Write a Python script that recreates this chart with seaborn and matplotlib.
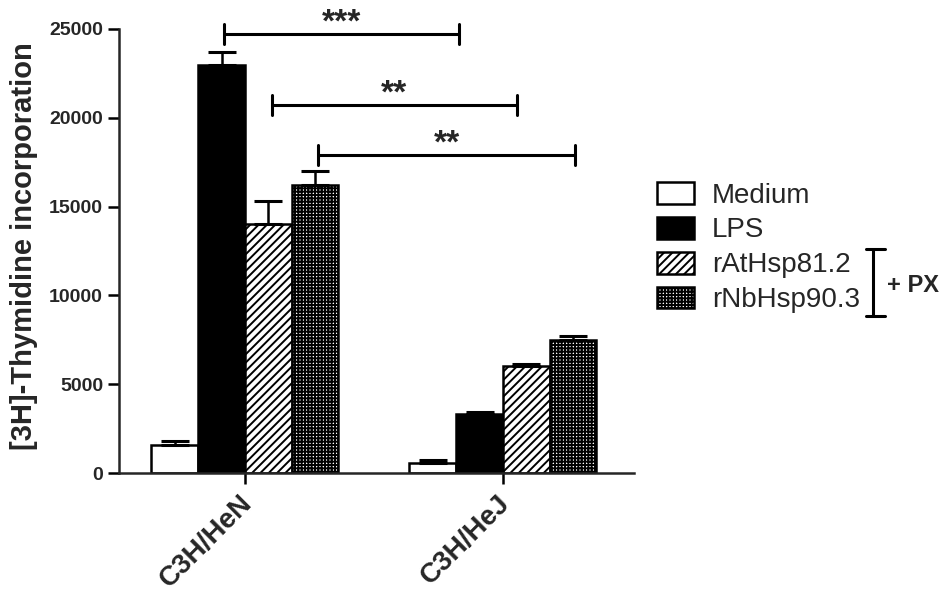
import matplotlib
matplotlib.use("Agg")
import matplotlib.pyplot as plt
import matplotlib.transforms as mtransforms
from matplotlib.lines import Line2D
import pandas as pd
import seaborn as sns

# Valores
cepas = ["C3H/HeN", "C3H/HeJ"]
tratamientos = ["Medium", "LPS", "rAtHsp81.2", "rNbHsp90.3"]
medium = [1550, 550]
lps = [23000, 3300]
rathsp = [14000, 6000]
rnbhsp = [16200, 7500]
err_medium = [250, 170]
err_lps = [700, 150]
err_rathsp = [1300, 150]
err_rnbhsp = [800, 200]

colores = ["white", "black", "white", "white"]
tramas = ["", "", "////", "+++++"]

# Barras de significancia (posicion x en unidades de categoria)
sig_izq = [-0.08, 0.105, 0.283]
sig_der = [0.83, 1.054, 1.28]
sig_y = [24700, 20700, 17900]
sig_txt = ["***", "**", "**"]


def armar_tabla():
    filas = []
    valores = [medium, lps, rathsp, rnbhsp]
    for t, vals in zip(tratamientos, valores):
        for c, v in zip(cepas, vals):
            filas.append({"cepa": c, "tratamiento": t, "valor": v})
    return pd.DataFrame(filas)


def main():
    sns.set_style("ticks")
    plt.rcParams["font.family"] = ["Liberation Sans", "DejaVu Sans"]
    plt.rcParams["hatch.linewidth"] = 1.4

    df = armar_tabla()

    fig = plt.figure(figsize=(9.42, 5.94), dpi=100)
    ax = fig.add_axes([0.1263, 0.2037, 0.5467, 0.7475])

    sns.barplot(data=df, x="cepa", y="valor", hue="tratamiento",
                order=cepas, hue_order=tratamientos, palette=colores,
                edgecolor="black", linewidth=1.8, width=0.725,
                errorbar=None, legend=False, ax=ax)

    barras = list(ax.containers)
    errores = [err_medium, err_lps, err_rathsp, err_rnbhsp]
    for cont, trama, err in zip(barras, tramas, errores):
        xs, ys = [], []
        for p in cont.patches:
            p.set_hatch(trama)
            xs.append(p.get_x() + p.get_width() / 2)
            ys.append(p.get_height())
        ax.errorbar(xs, ys, yerr=[[0] * len(err), err], fmt="none",
                    ecolor="black", elinewidth=1.8, capsize=10, capthick=2.2,
                    zorder=1)

    # barras de significancia
    for x0, x1, y, txt in zip(sig_izq, sig_der, sig_y, sig_txt):
        ax.plot([x0, x1], [y, y], color="black", lw=2.2, clip_on=False)
        for xe in (x0, x1):
            ax.plot([xe, xe], [y - 560, y + 560], color="black", lw=2.2,
                    clip_on=False, solid_capstyle="round")
        ax.text((x0 + x1) / 2, y - 250, txt, ha="center", va="bottom",
                fontsize=24, fontweight="bold", clip_on=False)

    ax.set_xlim(-0.488, 1.508)
    ax.set_ylim(0, 25000)
    ax.set_yticks([0, 5000, 10000, 15000, 20000, 25000])
    ax.set_xlabel("")
    ax.set_ylabel("[3H]-Thymidine incorporation", fontsize=21,
                  fontweight="bold")
    ax.yaxis.set_label_coords(-0.157, 0.51)

    for lado in ["top", "right"]:
        ax.spines[lado].set_visible(False)
    for lado in ["left", "bottom"]:
        ax.spines[lado].set_linewidth(1.8)
    ax.tick_params(axis="both", width=1.8, length=8, color="black")
    ax.tick_params(axis="y", labelsize=14)
    for lab in ax.get_yticklabels():
        lab.set_fontweight("bold")
    ax.set_xticks(range(len(cepas)))
    ax.set_xticklabels(cepas, rotation=45, ha="right", va="top",
                       rotation_mode="anchor", fontsize=20,
                       fontweight="bold")
    desplazar = mtransforms.ScaledTranslation(-4 / 72, -1 / 72,
                                              fig.dpi_scale_trans)
    for lab in ax.get_xticklabels():
        lab.set_transform(lab.get_transform() + desplazar)

    # leyenda con las barras reales
    handles = [c.patches[0] for c in barras]
    ax.legend(handles, tratamientos, loc="upper left",
              bbox_to_anchor=(657 / 942, 1 - 182 / 594),
              bbox_transform=fig.transFigure, frameon=False, fontsize=20,
              handlelength=1.33, handleheight=0.83, labelspacing=0.3,
              handletextpad=0.65, borderpad=0, borderaxespad=0)

    # corchete "+ PX"
    def px(x, y):
        return x / 942, 1 - y / 594

    for (xa, ya), (xb, yb) in [((873, 249), (873, 316)),
                               ((866, 249), (885, 249)),
                               ((866, 316), (885, 316))]:
        p0, p1 = px(xa, ya), px(xb, yb)
        fig.add_artist(Line2D([p0[0], p1[0]], [p0[1], p1[1]],
                              transform=fig.transFigure, color="black",
                              lw=2.2))
    tx, ty = px(887, 286)
    fig.text(tx, ty, "+ PX", ha="left", va="center", fontsize=17,
             fontweight="bold")

    fig.savefig("out.png", dpi=100)
    plt.close(fig)


if __name__ == "__main__":
    main()
